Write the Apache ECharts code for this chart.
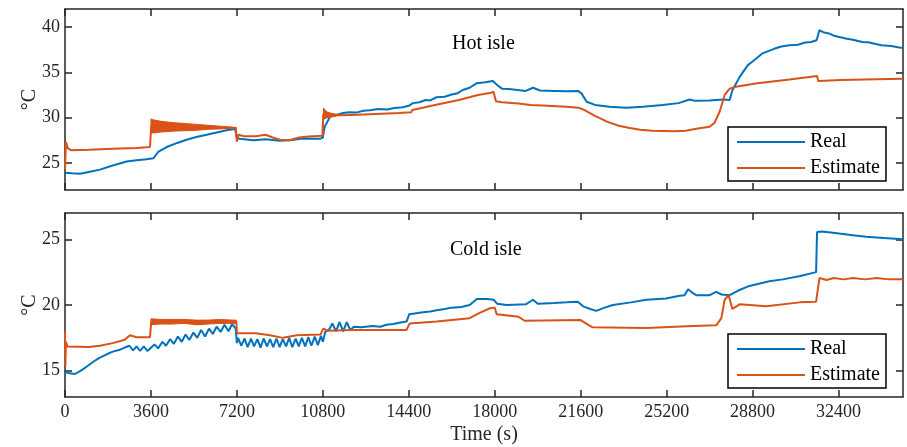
<!DOCTYPE html>
<html>
<head>
    <meta charset="utf-8">
    <title>Hot / Cold isle</title>
    <style>
        body{ margin: 0; padding: 0; background: #fff; }
        #container{ width: 907px; height: 447px; }
    </style>
</head>
<body>
    <div id="container"></div>
    <script src="https://cdn.jsdelivr.net/npm/echarts@6/dist/echarts.min.js"></script>
    <script type="text/javascript">
    // x ticks (s)
    var timeTicks = [0, 3600, 7200, 10800, 14400, 18000, 21600, 25200, 28800, 32400];
    var hotTicks = [25, 30, 35, 40];
    var coldTicks = [15, 20, 25];

    // Hot isle, measured
    var hotReal = [[0,23.9],[300,23.85],[630,23.8],[1000,24.0],[1460,24.25],[2000,24.7],[2580,25.15],[3000,25.3],[3420,25.4],[3700,25.5],
        [3900,26.2],[4260,26.75],[4700,27.2],[5090,27.55],[5500,27.85],[5930,28.1],[6350,28.35],[6770,28.6],[7120,28.75],[7200,27.8],
        [7300,27.65],[7880,27.5],[8400,27.6],[9000,27.45],[9420,27.5],[9970,27.7],[10680,27.65],[10800,27.8],[10880,29.0],[11100,30.1],
        [11650,30.5],[11900,30.6],[12200,30.55],[12500,30.75],[12770,30.8],[13100,30.95],[13500,30.9],[13800,31.05],[14150,31.15],[14400,31.3],
        [14570,31.6],[14850,31.7],[15100,31.95],[15300,31.9],[15560,32.25],[15900,32.3],[16200,32.55],[16450,32.7],[16660,33.05],[16950,33.3],
        [17250,33.8],[17600,33.9],[17920,34.05],[18100,33.6],[18300,33.2],[18600,33.15],[19300,32.95],[19600,33.3],[19900,33.0],[20500,32.95],
        [21000,32.9],[21500,32.95],[21640,32.65],[21850,31.75],[22200,31.4],[22800,31.2],[23520,31.1],[24200,31.2],[25030,31.4],[25700,31.6],
        [26160,32.0],[26400,31.85],[27000,31.9],[27550,32.0],[27840,31.95],[27950,33.0],[28260,34.5],[28600,35.8],[28800,36.2],[29220,37.1],
        [29700,37.6],[30000,37.85],[30350,38.0],[30700,38.05],[31000,38.3],[31250,38.35],[31480,38.55],[31600,39.65],[31800,39.4],[32000,39.3],
        [32200,39.05],[32440,38.9],[32700,38.75],[33000,38.6],[33400,38.35],[33700,38.3],[34000,38.1],[34200,38.0],[34600,37.9],[34950,37.75],[35100,37.7]];

    // Hot isle, estimate
    var hotEst = [[0,24.3],[40,27.3],[120,26.6],[250,26.4],[1000,26.45],[2000,26.55],[3000,26.65],[3560,26.75],[3610,29.0],[4000,29.0],
        [5000,28.95],[6000,28.9],[7150,28.85],[7200,27.35],[7260,28.1],[7500,27.95],[8000,27.95],[8400,28.1],[8700,27.8],[9000,27.55],
        [9400,27.5],[9800,27.8],[10200,27.9],[10780,28.0],[10820,30.4],[11000,30.3],[11500,30.25],[12000,30.3],[13000,30.4],[14000,30.5],
        [14500,30.6],[14550,30.85],[15500,31.4],[16500,31.95],[17300,32.5],[17850,32.75],[17950,32.85],[18050,31.8],[18300,31.7],[19000,31.55],
        [19500,31.4],[20000,31.35],[21000,31.2],[21500,31.1],[21700,30.9],[22200,30.2],[22700,29.55],[23200,29.1],[23650,28.85],[24100,28.65],
        [24600,28.55],[25500,28.5],[26000,28.55],[26500,28.8],[27000,29.0],[27200,29.4],[27420,30.65],[27630,32.5],[27840,33.2],[28100,33.4],
        [29000,33.8],[30350,34.2],[31500,34.6],[31550,34.05],[32500,34.15],[34000,34.25],[35100,34.3]];

    // oscillation envelopes of the estimate
    var hotBandT1 = [3600, 3700, 4000, 4500, 5000, 5500, 6000, 6500, 7000, 7180];
    var hotBandLo1 = [28.3, 28.3, 28.4, 28.5, 28.55, 28.6, 28.7, 28.75, 28.8, 28.8];
    var hotBandHi1 = [29.85, 29.75, 29.6, 29.45, 29.35, 29.25, 29.15, 29.05, 28.95, 28.9];
    var hotBandT2 = [10800, 10830, 10900, 11000, 11200, 11400, 11600];
    var hotBandLo2 = [28.0, 29.8, 29.9, 30.0, 30.1, 30.2, 30.25];
    var hotBandHi2 = [28.0, 31.05, 30.8, 30.6, 30.45, 30.35, 30.3];

    // Cold isle, measured
    var coldReal = [[0,14.9],[200,14.8],[420,14.75],[700,15.05],[900,15.3],[1200,15.7],[1460,16.0],[1750,16.25],[2000,16.45],[2300,16.6],[2550,16.8],
        [2700,16.9],[2850,16.55],[3000,16.85],[3150,16.5],[3300,16.85],[3450,16.5],[3600,16.75],
        [3750,17.0],[3900,16.7],[4080,17.2],[4230,16.9],[4400,17.4],[4560,17.05],[4730,17.6],[4890,17.2],[5050,17.75],[5210,17.35],
        [5380,17.9],[5540,17.5],[5700,18.1],[5870,17.6],[6030,18.2],[6190,17.8],[6350,18.35],[6520,17.95],[6680,18.5],[6850,18.0],
        [7000,18.55],[7150,18.2],[7200,17.1],
        [7250,17.5],[7380,16.9],[7520,17.45],[7650,16.8],[7790,17.45],[7920,16.85],[8060,17.4],[8190,16.75],[8320,17.45],[8460,16.85],
        [8590,17.4],[8720,16.8],[8860,17.45],[8990,16.8],[9120,17.4],[9260,16.85],[9390,17.5],[9520,16.8],[9660,17.45],[9790,16.85],
        [9920,17.5],[10060,16.85],[10190,17.55],[10320,16.9],[10460,17.6],[10590,16.95],[10720,17.65],[10800,17.2],
        [10900,17.95],[11050,18.1],[11200,18.6],[11350,18.0],[11500,18.7],[11650,18.0],[11800,18.7],[11950,18.1],[12100,18.35],[12400,18.3],
        [12900,18.4],[13200,18.35],[13470,18.5],[13750,18.55],[14000,18.65],[14310,18.75],[14420,19.3],[15000,19.45],[15300,19.5],[15570,19.6],
        [15900,19.7],[16200,19.8],[16600,19.85],[16950,20.0],[17250,20.45],
        [17700,20.45],[17950,20.4],[18100,20.1],[18500,20.0],[19300,20.05],[19600,20.4],[19800,20.1],[20500,20.15],[21000,20.2],[21480,20.25],
        [21700,19.9],[22000,19.7],[22250,19.55],[22600,19.8],[22950,20.0],[23700,20.2],[24350,20.4],[25180,20.5],[25740,20.7],[25950,20.75],
        [26100,21.2],[26300,20.9],[26440,20.75],[27000,20.75],[27280,21.0],[27500,20.8],[27840,20.75],[28200,21.1],[28670,21.45],[29500,21.8],
        [30070,21.95],[30800,22.2],[31460,22.5],[31500,25.55],[31700,25.6],[32160,25.5],[33000,25.3],[33560,25.2],[34300,25.1],[35100,25.0]];

    // Cold isle, estimate
    var coldEst = [[0,18.0],[15,15.3],[40,17.2],[100,16.85],[1000,16.8],[1460,16.9],[2000,17.1],[2500,17.35],[2720,17.7],[3000,17.55],
        [3560,17.55],[3610,18.7],[4500,18.7],[5100,18.8],[5650,18.55],[6200,18.75],[7180,18.7],[7200,17.85],[8000,17.85],[8580,17.7],
        [9130,17.5],[9710,17.7],[10700,17.75],[10820,18.2],[11000,18.05],[12000,18.1],[14300,18.1],[14440,18.6],[15570,18.75],[16950,19.0],
        [17300,19.35],[17800,19.75],[18000,19.8],[18080,19.3],[19000,19.1],[19250,18.8],[21600,18.85],[21900,18.5],[22100,18.3],[24350,18.25],
        [26300,18.4],[27280,18.45],[27490,19.0],[27630,20.4],[27800,20.75],[27950,19.7],[28260,20.05],[29370,19.9],[30770,20.2],[31460,20.25],
        [31600,22.05],[31900,21.9],[32200,22.05],[32600,21.95],[33000,22.05],[33500,21.95],[34000,22.05],[34500,21.95],[35100,21.95]];

    var coldBandT = [3600, 4000, 4500, 5000, 5500, 6000, 6500, 7000, 7180];
    var coldBandLo = [18.5, 18.55, 18.55, 18.6, 18.5, 18.55, 18.6, 18.6, 18.6];
    var coldBandHi = [18.95, 18.9, 18.9, 18.9, 18.85, 18.85, 18.9, 18.85, 18.85];

    var BLUE = '#0072BD', ORANGE = '#D95319';
    var FONT = "'Liberation Serif', 'Times New Roman', serif";
    var AXIS_COLOR = '#262626';

    function xAxisFor(grid, bottom) {
        return {
            type: 'value', gridIndex: grid, min: 0, max: 35100,
            position: bottom ? 'bottom' : 'top',
            axisLine: { show: true, onZero: false, lineStyle: { color: AXIS_COLOR, width: 1.5 } },
            axisTick: { show: true, inside: true, length: 7, customValues: timeTicks, lineStyle: { color: AXIS_COLOR, width: 1.5 } },
            axisLabel: {
                show: bottom && grid === 1, customValues: timeTicks, margin: 6,
                formatter: function (v) { return String(v); },
                color: '#262626', fontFamily: FONT, fontSize: 18
            },
            splitLine: { show: false },
            name: (bottom && grid === 1) ? 'Time (s)' : '',
            nameLocation: 'middle', nameGap: 28, nameMoveOverlap: false,
            nameTextStyle: { fontFamily: FONT, fontSize: 20, color: '#262626', verticalAlign: 'top' }
        };
    }

    function yAxisFor(grid, left, min, max, ticks) {
        return {
            type: 'value', gridIndex: grid, min: min, max: max,
            position: left ? 'left' : 'right',
            axisLine: { show: true, onZero: false, lineStyle: { color: AXIS_COLOR, width: 1.5 } },
            axisTick: { show: true, inside: true, length: 7, customValues: ticks, lineStyle: { color: AXIS_COLOR, width: 1.5 } },
            axisLabel: { show: left, customValues: ticks, margin: 5, color: '#262626', fontFamily: FONT, fontSize: 18 },
            splitLine: { show: false },
            name: left ? '°C' : '',
            nameLocation: 'middle', nameGap: 25, nameRotate: 90, nameMoveOverlap: false,
            nameTextStyle: { fontFamily: FONT, fontSize: 20, color: '#262626' }
        };
    }

    function lineSeries(name, data, color, xi, yi) {
        return {
            name: name, type: 'line', data: data, xAxisIndex: xi, yAxisIndex: yi,
            symbol: 'none', showSymbol: false, animation: false,
            lineStyle: { color: color, width: 2 }, itemStyle: { color: color }, z: name === 'Estimate' ? 3 : 2
        };
    }

    // filled band between lo and hi envelopes, drawn as polygons through the axes
    function bandSeries(t, lo, hi, xi, yi) {
        var rows = t.map(function (v, i) { return [v, lo[i], hi[i]]; });
        return {
            type: 'custom', xAxisIndex: xi, yAxisIndex: yi, data: rows, z: 3, silent: true, animation: false,
            encode: { x: 0, y: [1, 2] },
            renderItem: function (params, api) {
                var i = params.dataIndex;
                if (i >= rows.length - 1) return null;
                var a = rows[i], b = rows[i + 1];
                var pts = [api.coord([a[0], a[1]]), api.coord([b[0], b[1]]), api.coord([b[0], b[2]]), api.coord([a[0], a[2]])];
                return {
                    type: 'polygon',
                    shape: { points: pts },
                    style: { fill: ORANGE, stroke: ORANGE, lineWidth: 1 }
                };
            }
        };
    }

    function legendAt(top) {
        return {
            data: ['Real', 'Estimate'], orient: 'vertical', left: 728, top: top,
            icon: 'rect', itemWidth: 68, itemHeight: 2, itemGap: 6,
            padding: [5, 6, 3, 9],
            borderColor: '#000', borderWidth: 1.5, backgroundColor: '#fff',
            textStyle: { fontFamily: FONT, fontSize: 20, color: '#000' },
            selectedMode: false
        };
    }

    var dom = document.getElementById('container');
    var myChart = echarts.init(dom);

    var series = [
        lineSeries('Real', hotReal, BLUE, 0, 0),
        lineSeries('Estimate', hotEst, ORANGE, 0, 0),
        lineSeries('Real', coldReal, BLUE, 2, 2),
        lineSeries('Estimate', coldEst, ORANGE, 2, 2),
        bandSeries(hotBandT1, hotBandLo1, hotBandHi1, 0, 0),
        bandSeries(hotBandT2, hotBandLo2, hotBandHi2, 0, 0),
        bandSeries(coldBandT, coldBandLo, coldBandHi, 2, 2)
    ];

    var option = {
        backgroundColor: '#fff',
        animation: false,
        title: [
            { text: 'Hot isle', left: 452, top: 34, textStyle: { fontFamily: FONT, fontSize: 20, fontWeight: 'normal', color: '#000' }, padding: 0 },
            { text: 'Cold isle', left: 450, top: 240, textStyle: { fontFamily: FONT, fontSize: 20, fontWeight: 'normal', color: '#000' }, padding: 0 }
        ],
        legend: [legendAt(127), legendAt(334)],
        grid: [
            { left: 65, top: 9, width: 838, height: 181 },
            { left: 65, top: 213, width: 838, height: 184 }
        ],
        xAxis: [xAxisFor(0, true), xAxisFor(0, false), xAxisFor(1, true), xAxisFor(1, false)],
        yAxis: [
            yAxisFor(0, true, 22, 42, hotTicks), yAxisFor(0, false, 22, 42, hotTicks),
            yAxisFor(1, true, 13, 27, coldTicks), yAxisFor(1, false, 13, 27, coldTicks)
        ],
        series: series
    };

    myChart.setOption(option, true);
    </script>
</body>
</html>
